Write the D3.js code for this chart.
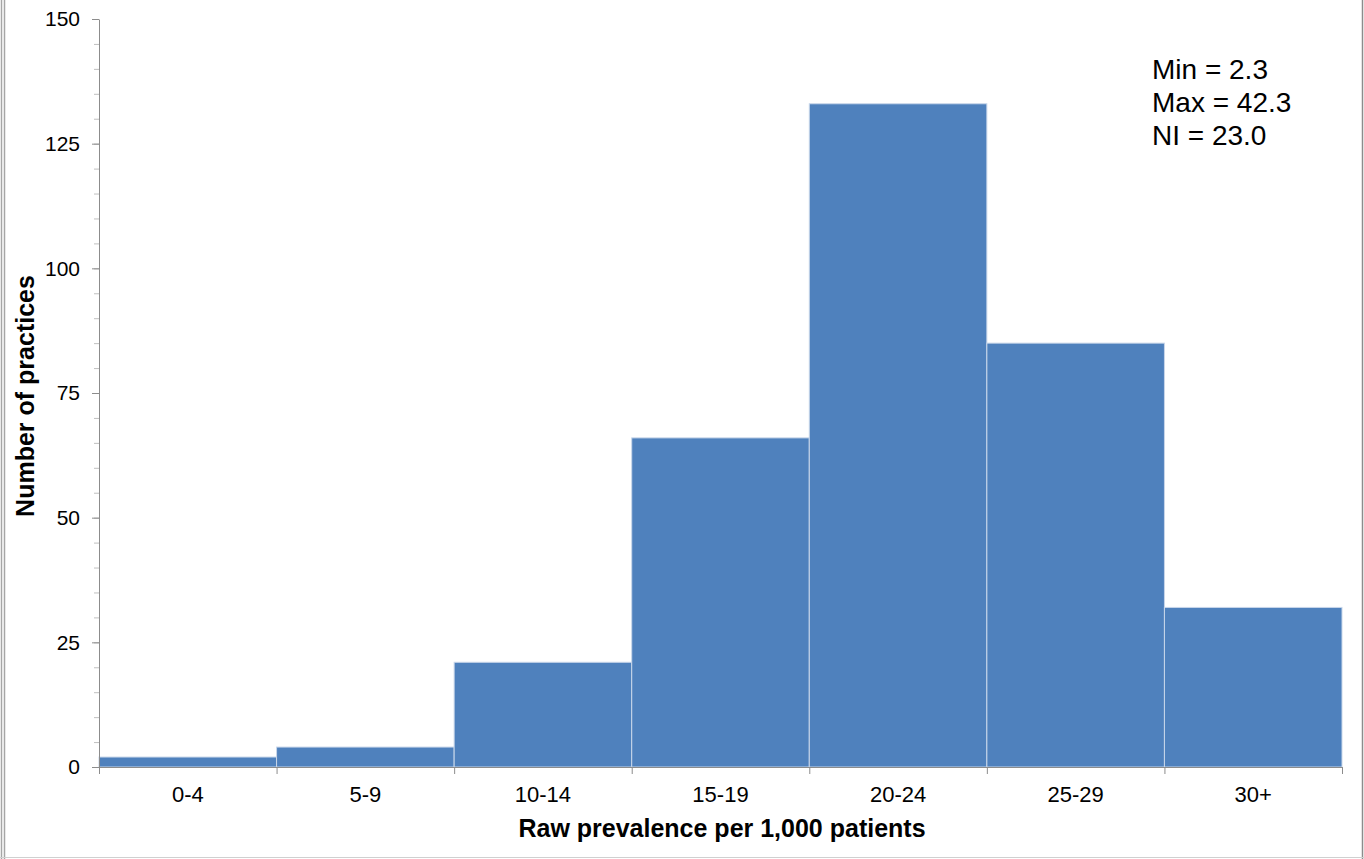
<!DOCTYPE html>
<html lang="en">
    <head>
        <meta charset="utf-8">
        <title>Number of practices by raw prevalence</title>
        <script src="https://d3js.org/d3.v7.min.js"></script>
        <style>
            html, body {
                margin: 0;
                padding: 0;
                background-color: #FFFFFF;
                overflow: hidden;
            }
            svg {
                display: block;
                font-family: "Liberation Sans", Arial, sans-serif;
            }
        </style>
    </head>
    <body>
        <svg id="chart"></svg>
        <script>
            //data
            const bins = ["0-4", "5-9", "10-14", "15-19", "20-24", "25-29", "30+"];
            const practices = [2, 4, 21, 66, 133, 85, 32];
            const statLines = ["Min = 2.3", "Max = 42.3", "NI = 23.0"];
            const yMajorTicks = [0, 25, 50, 75, 100, 125, 150];

            //dimensions
            const width = 1364;
            const height = 859;
            const margin = { top: 19, right: 22, bottom: 92, left: 99 };
            const plotW = width - margin.left - margin.right;
            const plotH = height - margin.top - margin.bottom;

            const svg = d3.select("#chart")
                    .attr("width", width)
                    .attr("height", height);

            //frame
            svg.append("line").attr("x1", 1.5).attr("x2", 1.5).attr("y1", 0).attr("y2", height)
                    .attr("stroke", "#A6A6A6").attr("stroke-width", 1.5);
            svg.append("line").attr("x1", 4.5).attr("x2", 4.5).attr("y1", 0).attr("y2", height)
                    .attr("stroke", "#A6A6A6").attr("stroke-width", 1.5);
            svg.append("line").attr("x1", 1362.5).attr("x2", 1362.5).attr("y1", 0).attr("y2", height)
                    .attr("stroke", "#8C8C8C").attr("stroke-width", 1.5);
            svg.append("line").attr("x1", 0).attr("x2", width).attr("y1", 857.5).attr("y2", 857.5)
                    .attr("stroke", "#D0D0D0").attr("stroke-width", 1);

            const g = svg.append("g")
                    .attr("transform", `translate(${margin.left}, ${margin.top})`);

            //scales
            const xScale = d3.scaleBand()
                    .domain(bins)
                    .range([0, plotW])
                    .padding(0);

            const yScale = d3.scaleLinear()
                    .domain([0, 150])
                    .range([plotH, 0]);

            //bars
            g.selectAll("rect.bar")
                    .data(bins)
                    .enter()
                    .append("rect")
                    .attr("class", "bar")
                    .attr("x", d => xScale(d))
                    .attr("y", (d, i) => yScale(practices[i]))
                    .attr("width", xScale.bandwidth())
                    .attr("height", (d, i) => plotH - yScale(practices[i]))
                    .attr("fill", "#4F81BD")
                    .attr("stroke", "#C9D7EA")
                    .attr("stroke-width", 1);

            //y axis: minor ticks every 5, labels every 25
            const yMinor = d3.axisLeft(yScale)
                    .tickValues(d3.range(0, 151, 5))
                    .tickSize(5)
                    .tickFormat("");
            const yMinorG = g.append("g").call(yMinor);
            yMinorG.select(".domain").remove();
            yMinorG.selectAll("line").attr("stroke", "#BFBFBF");

            const yAxis = d3.axisLeft(yScale)
                    .tickValues(yMajorTicks)
                    .tickSize(7)
                    .tickSizeOuter(0)
                    .tickPadding(12);
            const yAxisG = g.append("g").attr("id", "y-axis").call(yAxis);
            yAxisG.select(".domain").attr("stroke", "#8C8C8C");
            yAxisG.selectAll("line").attr("stroke", "#8C8C8C");
            yAxisG.selectAll("text")
                    .attr("font-size", 21)
                    .attr("fill", "#000");

            //x axis with ticks at the bin edges
            const xAxis = d3.axisBottom(xScale)
                    .tickSize(0)
                    .tickPadding(19);
            const xAxisG = g.append("g")
                    .attr("id", "x-axis")
                    .attr("transform", `translate(0, ${plotH})`)
                    .call(xAxis);
            xAxisG.select(".domain").attr("stroke", "#8C8C8C");
            xAxisG.selectAll("text")
                    .attr("font-size", 22)
                    .attr("fill", "#000");

            const edges = bins.map(d => xScale(d)).concat([plotW]);
            xAxisG.selectAll("line.edge")
                    .data(edges)
                    .enter()
                    .append("line")
                    .attr("class", "edge")
                    .attr("x1", d => d + 0.5)
                    .attr("x2", d => d + 0.5)
                    .attr("y1", 0)
                    .attr("y2", 7)
                    .attr("stroke", "#8C8C8C");

            //axis titles
            svg.append("text")
                    .attr("x", 722)
                    .attr("y", 837)
                    .attr("text-anchor", "middle")
                    .attr("font-size", 25)
                    .attr("font-weight", "bold")
                    .text("Raw prevalence per 1,000 patients");

            svg.append("text")
                    .attr("transform", `translate(34, 396) rotate(-90)`)
                    .attr("text-anchor", "middle")
                    .attr("font-size", 25)
                    .attr("font-weight", "bold")
                    .text("Number of practices");

            //summary stats
            svg.append("g")
                    .selectAll("text")
                    .data(statLines)
                    .enter()
                    .append("text")
                    .attr("x", 1152)
                    .attr("y", (d, i) => 79 + i * 33)
                    .attr("font-size", 28)
                    .attr("fill", "#000")
                    .text(d => d);
        </script>
    </body>
</html>
